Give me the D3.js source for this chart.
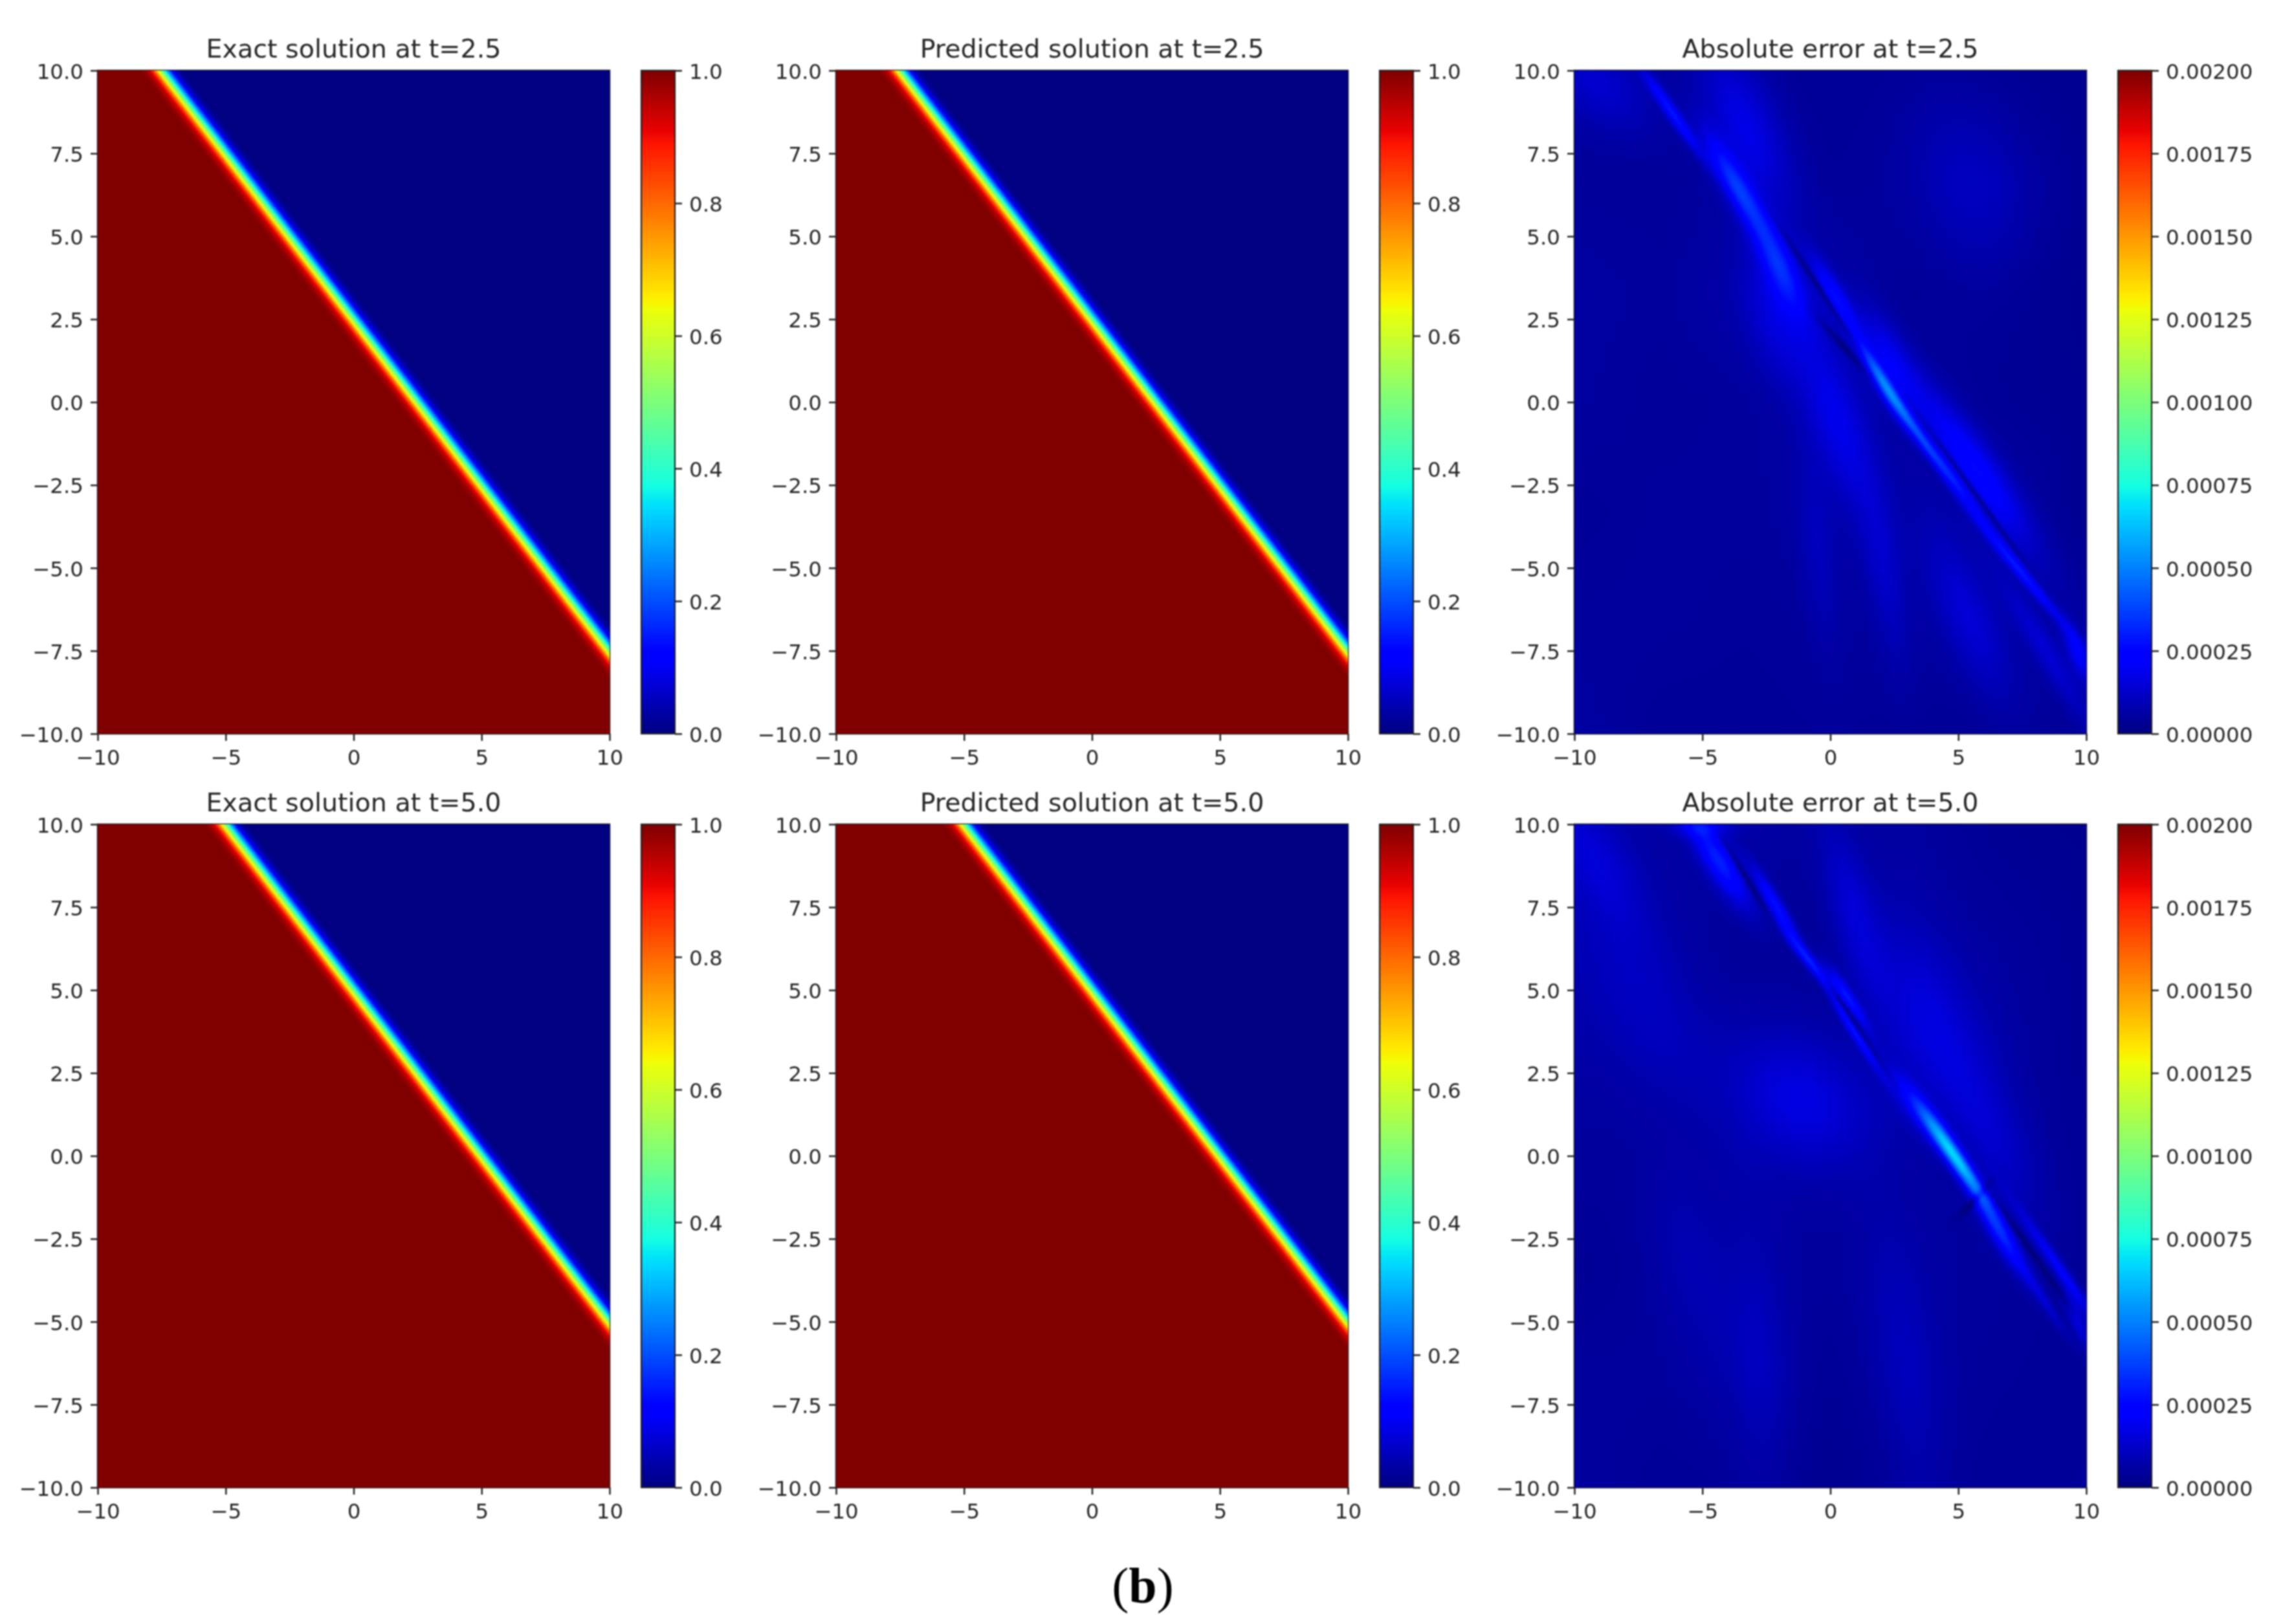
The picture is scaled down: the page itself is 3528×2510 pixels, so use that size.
<!DOCTYPE html>
<html><head><meta charset="utf-8">
<script src="https://cdn.jsdelivr.net/npm/d3@7"></script>
<style>
html,body{margin:0;padding:0;background:#fff;}
#wrap{position:relative;width:3528px;height:2510px;overflow:hidden;filter:blur(1.2px);}
canvas{position:absolute;}
svg{position:absolute;left:0;top:0;}
text{font-family:"DejaVu Sans";fill:#262626;}
</style></head><body><div id="wrap"></div>
<script>
// ---- data ----
const times = [2.5, 5.0];
const timeLabels = ["2.5", "5.0"];
const panelKinds = ["Exact solution", "Predicted solution", "Absolute error"];
const xTicks = [-10, -5, 0, 5, 10];
const yTicks = [-10, -7.5, -5, -2.5, 0, 2.5, 5, 7.5, 10];
const solTicks = [0, 0.2, 0.4, 0.6, 0.8, 1.0];
const errTicks = [0, 0.00025, 0.0005, 0.00075, 0.001, 0.00125, 0.0015, 0.00175, 0.002];
// front profile: u against signed distance (x + y - t)
const frontS = [-0.85, -0.68, -0.51, -0.39, -0.26, -0.13, 0, 0.13, 0.26, 0.39, 0.51, 0.68, 0.85];
const frontU = [1, 0.98, 0.94, 0.88, 0.76, 0.62, 0.5, 0.36, 0.24, 0.12, 0.06, 0.02, 0];
// jet colour stops
const jetPos = [0, .11, .125, .34, .35, .375, .64, .65, .66, .89, .91, 1];
const jetR = [0, 0, 0, 0, 0, 20, 238, 247, 255, 255, 232, 128];
const jetG = [0, 0, 0, 219, 229, 255, 255, 245, 236, 19, 0, 0];
const jetB = [128, 255, 255, 255, 247, 226, 8, 0, 0, 0, 0, 0];
// absolute error background, units of 1e-6, rows y=10..-10, columns x=-10..10
const errBase25 = [
 [60,50,45,40,40,35,30],
 [45,45,55,45,45,55,35],
 [60,50,70,70,40,35,25],
 [55,45,50,70,60,40,30],
 [40,50,50,60,60,70,30],
 [50,50,45,50,55,60,55],
 [60,40,40,45,40,40,45]];
const errBase50 = [
 [70,60,65,50,55,35,25],
 [70,60,45,45,55,50,35],
 [65,65,50,50,65,60,35],
 [50,45,65,50,50,60,40],
 [35,50,55,50,55,50,40],
 [50,50,60,40,55,45,40],
 [55,40,45,30,45,40,45]];
// error features: x, y, direction deg, half length, half width, height (1e-6)
const errBlobs25 = [
 [-6.2,8.75,-48,1.1,0.15,230],
 [-3.66,6.5,-52,1.3,0.3,260],
 [-3.3,8.2,-60,2.0,0.9,130],
 [-2.0,4.1,-58,1.2,0.38,210],
 [-2.1,2.6,-70,1.5,0.8,100],
 [0.2,3.2,-52,1.0,0.24,190],
 [2.3,1.2,-55,1.3,0.5,140],
 [2.1,0.5,-52,1.1,0.17,340],
 [3.4,-0.9,-50,1.3,0.13,220],
 [4.7,-2.2,-47,1.1,0.13,180],
 [5.6,-1.9,-47,2.2,0.5,200],
 [0.3,-0.6,-68,2.0,0.7,120],
 [7.4,-5.07,-43,1.7,0.14,220],
 [9.7,-7.6,-60,0.7,0.25,170],
 [8.5,-7.6,-52,2.0,0.3,90],
 [5.4,-6.5,-60,2.0,0.7,90],
 [2.1,-5.0,-78,2.0,0.5,70],
 [-0.5,-4.4,-82,2.0,0.5,50],
 [5.4,6.5,-60,2.0,1.5,60],
 [-9.0,9.6,-30,1.5,0.8,80],
 [-0.4,3.4,-50,1.8,0.07,-120],
 [0.6,1.6,-40,1.0,0.09,-90],
 [5.7,-2.8,-47,1.8,0.06,-130]
];
const errBlobs50 = [
 [-4.36,8.9,-50,1.2,0.35,250],
 [-2.08,7.5,-52,1.0,0.17,230],
 [-0.7,5.8,-42,1.0,0.14,240],
 [0.7,4.8,-50,0.8,0.14,200],
 [0.9,3.8,-50,1.0,0.12,210],
 [4.85,0.0,-48,1.3,0.2,540],
 [3.6,1.2,-45,1.2,0.3,140],
 [6.63,-2.3,-52,1.2,0.24,260],
 [9.0,-3.44,-48,1.7,0.15,170],
 [9.7,-5.0,-60,0.7,0.2,130],
 [8.4,-4.4,-50,1.0,0.12,90],
 [-1.1,1.7,-20,2.0,1.3,120],
 [3.9,4.1,-60,2.4,1.2,100],
 [0.9,7.4,-70,2.0,0.6,90],
 [-9.2,9.0,-50,2.0,0.8,80],
 [-7.4,4.8,-50,2.5,1.2,50],
 [6.4,0.6,-55,2.0,0.8,60],
 [-2.7,-6.0,-85,2.5,0.8,50],
 [2.9,-6.0,-80,3.0,0.9,50],
 [-5.4,-3.3,-70,2.5,1.0,35],
 [-5.0,9.9,0,0.8,0.2,110],
 [-3.3,8.4,-52,1.0,0.07,-110],
 [0.8,4.2,-50,1.3,0.06,-120],
 [7.6,-2.6,-48,2.0,0.07,-90],
 [5.7,-1.3,40,0.5,0.1,-120]
];
const errBases = [errBase25, errBase50];
const errBlobs = [errBlobs25, errBlobs50];
// how a feature's height falls away with scaled distance
const fallR = [0, .25, .5, .75, 1, 1.25, 1.5, 1.75, 2, 2.5, 3];
const fallV = [1, .97, .88, .75, .6, .46, .32, .21, .13, .04, 0];

// ---- layout ----
const panelX = [151, 1292, 2433], panelY = [109, 1274];
const pw = 791, ph = 1025, cbGap = 49, cbW = 52, step = 2;
const wrap = d3.select("#wrap");
const svg = wrap.append("svg").attr("width", 3528).attr("height", 2510);

// ---- scales ----
const xS = d3.scaleLinear().domain([-10, 10]).range([0, pw]);
const yS = d3.scaleLinear().domain([-10, 10]).range([ph, 0]);
const front = d3.scaleLinear().domain(frontS).range(frontU).clamp(true);
const fall = d3.scaleLinear().domain(fallR).range(fallV).clamp(true);
const chan = a => d3.scaleLinear().domain(jetPos).range(a).clamp(true);
const cR = chan(jetR), cG = chan(jetG), cB = chan(jetB);
const LUT = d3.range(1024).map(i => { const f = i / 1023; return [cR(f), cG(f), cB(f)]; });
const fallLUT = d3.range(601).map(i => fall(i / 100));

function drawField(col, row, frac) {
  const cw = Math.ceil(pw / step), ch = Math.ceil(ph / step);
  const cv = wrap.append("canvas").attr("width", cw).attr("height", ch)
    .style("left", panelX[col] + "px").style("top", panelY[row] + "px")
    .style("width", pw + "px").style("height", ph + "px").node();
  const ctx = cv.getContext("2d"), img = ctx.createImageData(cw, ch);
  let k = 0;
  for (let j = 0; j < ch; j++) {
    const y = yS.invert((j + .5) * step);
    for (let i = 0; i < cw; i++) {
      const x = xS.invert((i + .5) * step);
      const c = LUT[Math.round(Math.min(1, Math.max(0, frac(x, y))) * 1023)];
      img.data[k++] = c[0]; img.data[k++] = c[1]; img.data[k++] = c[2]; img.data[k++] = 255;
    }
  }
  ctx.putImageData(img, 0, 0);
}

function errField(r) {
  const base = errBases[r];
  const blobs = errBlobs[r].map(b => {
    const a = b[2] * Math.PI / 180;
    return {x: b[0], y: b[1], c: Math.cos(a), s: Math.sin(a), L: b[3], W: b[4], h: b[5]};
  });
  return (x, y) => {
    const gx = (x + 10) / 20 * 6, gy = (10 - y) / 20 * 6;
    const ix = Math.min(5, Math.floor(gx)), iy = Math.min(5, Math.floor(gy));
    const fx = gx - ix, fy = gy - iy;
    const top = d3.interpolateNumber(base[iy][ix], base[iy][ix + 1])(fx);
    const bot = d3.interpolateNumber(base[iy + 1][ix], base[iy + 1][ix + 1])(fx);
    let v = top + (bot - top) * fy;
    for (const b of blobs) {
      const dx = x - b.x, dy = y - b.y;
      const al = (dx * b.c + dy * b.s) / b.L, ac = (-dx * b.s + dy * b.c) / b.W;
      const q = al * al + ac * ac;
      if (q < 9) v += b.h * fallLUT[Math.round(Math.sqrt(q) * 100)];
    }
    return v / 2000;
  };
}

const fmtY = d => d3.format(".1f")(d).replace("-", "\u2212");
const fmtX = d => String(d).replace("-", "\u2212");

function styleAxis(g) {
  g.selectAll("text").attr("font-size", 32.5).style("font-family", '"DejaVu Sans"').attr("fill", "#262626");
  g.selectAll("line").attr("stroke", "#222").attr("stroke-width", 2.5);
}

times.forEach((t, r) => {
  panelKinds.forEach((kind, c) => {
    const X = panelX[c], Y = panelY[r];
    if (c < 2) drawField(c, r, (x, y) => front(x + y - t));
    else drawField(c, r, errField(r));

    const g = svg.append("g").attr("transform", `translate(${X},${Y})`);
    const ax = g.append("g").attr("transform", `translate(0,${ph})`)
      .call(d3.axisBottom(xS).tickValues(xTicks).tickFormat(fmtX).tickSize(11).tickPadding(14));
    const ay = g.append("g")
      .call(d3.axisLeft(yS).tickValues(yTicks).tickFormat(fmtY).tickSize(11).tickPadding(11));
    [ax, ay].forEach(a => { styleAxis(a); a.select(".domain").remove(); });
    ay.selectAll("text").attr("dy", "0.38em");
    g.append("rect").attr("width", pw).attr("height", ph)
      .attr("fill", "none").attr("stroke", "#222").attr("stroke-width", 2.5);
    g.append("text").attr("x", pw / 2).attr("y", -20).attr("text-anchor", "middle")
      .attr("font-size", 39.6).text(`${kind} at t=${timeLabels[r]}`);

    // colour bar
    const isErr = c === 2;
    const maxV = isErr ? 0.002 : 1;
    const cS = d3.scaleLinear().domain([0, maxV]).range([ph, 0]);
    const cb = g.append("g").attr("transform", `translate(${pw + cbGap},0)`);
    const levels = d3.range(256);
    cb.selectAll("rect.lv").data(levels).join("rect").attr("class", "lv")
      .attr("x", 0).attr("width", cbW)
      .attr("y", d => cS((d + 1) / 256 * maxV))
      .attr("height", d => cS(d / 256 * maxV) - cS((d + 1) / 256 * maxV) + 0.7)
      .attr("fill", d => { const k = LUT[Math.round((d + .5) / 256 * 1023)]; return `rgb(${k[0]},${k[1]},${k[2]})`; });
    const ac = cb.append("g").attr("transform", `translate(${cbW},0)`)
      .call(d3.axisRight(cS).tickValues(isErr ? errTicks : solTicks)
        .tickFormat(isErr ? d3.format(".5f") : d3.format(".1f")).tickSize(11).tickPadding(11));
    styleAxis(ac); ac.select(".domain").remove();
    ac.selectAll("text").attr("dy", "0.38em");
    cb.append("rect").attr("width", cbW).attr("height", ph)
      .attr("fill", "none").attr("stroke", "#222").attr("stroke-width", 2.2);
  });
});

const cap = svg.append("text").attr("x", 1766).attr("y", 2477).attr("text-anchor", "middle")
  .attr("font-size", 78).style("font-family", '"Liberation Serif"').style("fill", "#000");
cap.append("tspan").text("(");
cap.append("tspan").attr("font-weight", "bold").text("b");
cap.append("tspan").text(")");
</script></body></html>
